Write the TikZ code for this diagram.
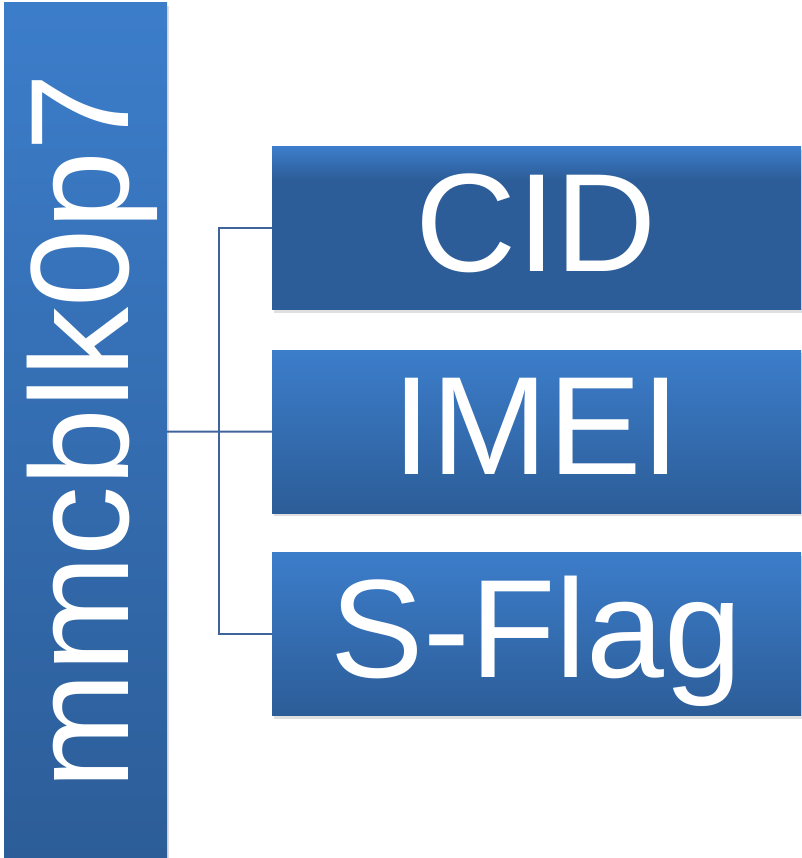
\documentclass[tikz,border=0pt]{standalone}
\usepackage{fontspec}
\setmainfont{Liberation Sans}
\usepackage{xcolor}
\usepackage{tikz}
\usetikzlibrary{positioning, shadows}

\definecolor{barlight}{RGB}{60,125,202}
\definecolor{bardark}{RGB}{44,93,152}
\definecolor{linkblue}{RGB}{62,100,155}
\pgfdeclareverticalshading{cidshade}{100bp}{color(0bp)=(bardark); color(25bp)=(bardark); color(65bp)=(bardark); color(75bp)=(barlight); color(100bp)=(barlight)}

\begin{document}
\begin{tikzpicture}[
        x=1pt, y=1pt,
        node distance=40pt,
        box/.style={minimum width=529pt, minimum height=163pt, inner sep=0pt, text=white, font=\fontsize{140}{140}\selectfont, text height=100pt, text depth=14pt, drop shadow={opacity=0.25, shadow xshift=1.5pt, shadow yshift=-3pt}},
        link/.style={draw=linkblue, line width=2pt}
    ]
        \useasboundingbox (0,0) rectangle (801,858);

        \node[box, rotate=90, minimum width=857pt, minimum height=163pt, top color=barlight, bottom color=bardark] (mmc) at (85.5,426.5) {mmcblk0p7};
        \node[box, shading=cidshade] (cid) at (536.5,629.5) {CID};
        \node[box, below=of cid, top color=barlight, bottom color=bardark] (imei) {IMEI};
        \node[box, below=39pt of imei, top color=barlight, bottom color=bardark] (sflag) {S-Flag};

        \draw[link] (mmc) -- (imei);
        \draw[link] ([xshift=52pt]mmc.south) |- (cid);
        \draw[link] ([xshift=52pt]mmc.south) |- (sflag);
    \end{tikzpicture}
\end{document}
